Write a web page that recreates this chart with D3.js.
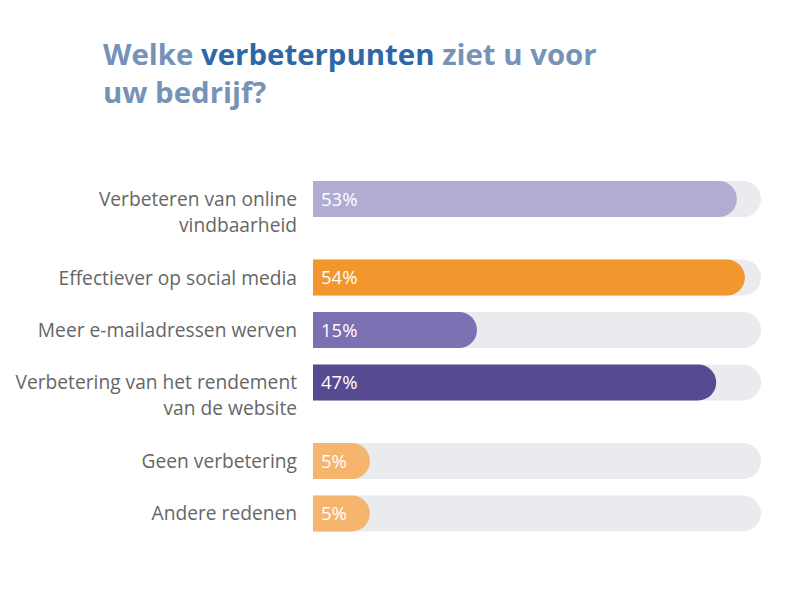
<!DOCTYPE html>
<html>
<head>
<meta charset="utf-8">
<script src="https://cdn.jsdelivr.net/npm/d3@7"></script>
<style>
  html, body { margin: 0; padding: 0; background: #ffffff; }
  svg { display: block; }
</style>
</head>
<body>
<svg id="chart" width="793" height="613"></svg>
<script>
// ---- data ----
const categories = [
  ["Verbeteren van online", "vindbaarheid"],
  ["Effectiever op social media"],
  ["Meer e-mailadressen werven"],
  ["Verbetering van het rendement", "van de website"],
  ["Geen verbetering"],
  ["Andere redenen"]
];
const percentages = [53, 54, 15, 47, 5, 5];
// filled share of the grey track, as drawn in the picture (% of track)
const barLengths = [94.6, 96.4, 36.6, 90.0, 12.7, 12.7];
const barColors = ["#b1acd2", "#f2962e", "#7b70b1", "#564a91", "#f6b56c", "#f6b56c"];
const titleParts = [
  { text: "Welke ", strong: false },
  { text: "verbeterpunten", strong: true },
  { text: " ziet u voor", strong: false }
];
const titleLine2 = "uw bedrijf?";

// ---- layout ----
const svg = d3.select("#chart");
const font = "'Open Sans', Lato, sans-serif";
const trackLeft = 313, trackRight = 761, barH = 36;

const x = d3.scaleLinear().domain([0, 100]).range([trackLeft, trackRight]);

// vertical slots: each row takes 1 unit plus 0.5 per extra label line
const slotStarts = [];
let acc = 0;
categories.forEach((c) => { slotStarts.push(acc); acc += 1 + 0.5 * (c.length - 1); });
const y = d3.scaleLinear().domain([0, 1]).range([199, 199 + 52.4]);

// title
const title = svg.append("text")
  .attr("x", 103).attr("y", 65)
  .attr("font-family", font).attr("font-weight", 700)
  .attr("font-size", 29.4);
titleParts.forEach(p => {
  title.append("tspan").text(p.text)
    .attr("fill", p.strong ? "#2d67a7" : "#7593b7");
});
svg.append("text")
  .attr("x", 103).attr("y", 103)
  .attr("font-family", font).attr("font-weight", 700)
  .attr("font-size", 29.4).attr("fill", "#7593b7")
  .text(titleLine2);

function roundRight(x0, x1, yc, h) {
  const r = h / 2;
  const xr = Math.max(x0, x1 - r);
  const p = d3.path();
  p.moveTo(x0, yc - r);
  p.lineTo(xr, yc - r);
  p.arc(xr, yc, r, -Math.PI / 2, Math.PI / 2, false);
  p.lineTo(x0, yc + r);
  p.closePath();
  return p.toString();
}

const rows = svg.selectAll("g.row")
  .data(categories.map((c, i) => ({
    lines: c, pct: percentages[i], len: barLengths[i], color: barColors[i], slot: slotStarts[i]
  })))
  .join("g").attr("class", "row");

rows.append("path")
  .attr("d", d => roundRight(x(0), x(100), y(d.slot), barH))
  .attr("fill", "#e9ebee");

rows.append("path")
  .attr("d", d => roundRight(x(0), x(d.len), y(d.slot), barH))
  .attr("fill", d => d.color);

rows.append("text")
  .attr("x", x(0) + 8)
  .attr("y", d => y(d.slot) + 6.5)
  .attr("font-family", font).attr("font-size", 18.5)
  .attr("fill", "#ffffff")
  .text(d => d.pct + "%");

rows.each(function(d) {
  const t = d3.select(this).append("text")
    .attr("text-anchor", "end")
    .attr("font-family", font).attr("font-size", 19.2)
    .attr("fill", "#666666");
  d.lines.forEach((ln, j) => {
    t.append("tspan").attr("x", 297).attr("y", y(d.slot) + 7 + j * 25.5).text(ln);
  });
});
</script>
</body>
</html>
